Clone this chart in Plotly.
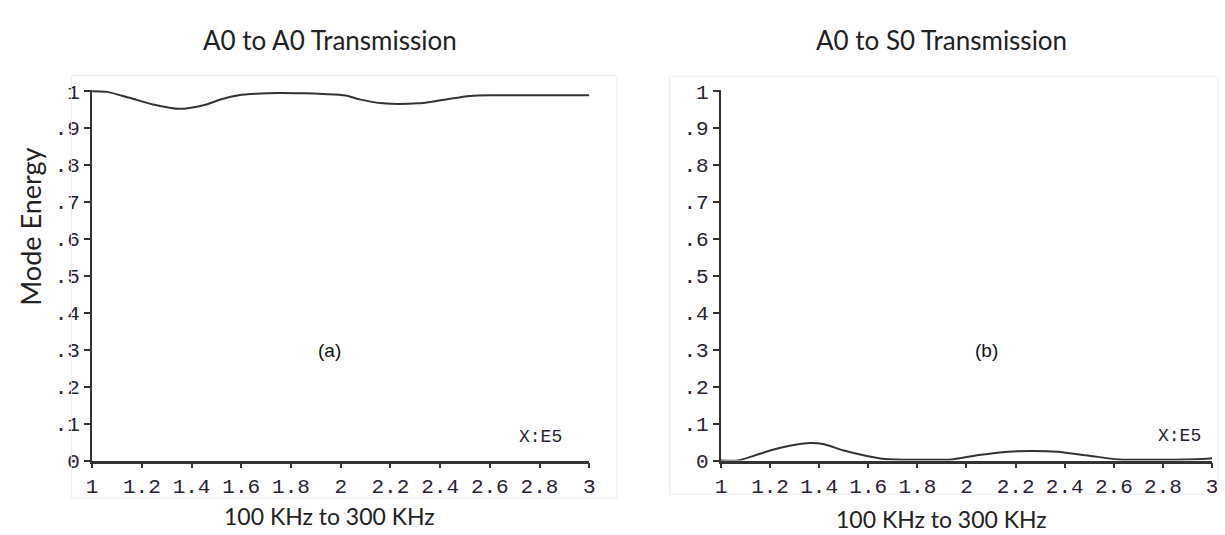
import plotly.graph_objects as go

# ---- data ----
freq_a = [1.0, 1.06, 1.15, 1.245, 1.35, 1.46, 1.52, 1.59, 1.66, 1.75, 1.85, 1.93, 2.02, 2.08, 2.17, 2.31, 2.41, 2.52, 2.62, 2.8, 3.0]
a0_a0 = [1.0, 0.998, 0.982, 0.964, 0.952, 0.964, 0.978, 0.989, 0.993, 0.995, 0.994, 0.992, 0.988, 0.977, 0.967, 0.967, 0.976, 0.987, 0.989, 0.989, 0.989]

freq_b = [1.0, 1.07, 1.13, 1.2, 1.28, 1.35, 1.42, 1.5, 1.59, 1.67, 1.8, 1.94, 2.05, 2.17, 2.27, 2.37, 2.5, 2.62, 2.8, 2.96, 3.0]
a0_s0 = [0.0, 0.0, 0.012, 0.027, 0.04, 0.047, 0.044, 0.027, 0.013, 0.004, 0.002, 0.003, 0.015, 0.024, 0.026, 0.024, 0.013, 0.003, 0.002, 0.004, 0.006]

x_ticks = [1, 1.2, 1.4, 1.6, 1.8, 2, 2.2, 2.4, 2.6, 2.8, 3]
x_labels = ["1", "1.2", "1.4", "1.6", "1.8", "2", "2.2", "2.4", "2.6", "2.8", "3"]
y_ticks = [0, 0.1, 0.2, 0.3, 0.4, 0.5, 0.6, 0.7, 0.8, 0.9, 1]
y_labels = ["0", ".1", ".2", ".3", ".4", ".5", ".6", ".7", ".8", ".9", "1"]

W, H = 1225, 535
def px(x):
    return x / W
def py(y):
    return 1 - y / H

LINE = "#333333"
TICKFONT = dict(family="Liberation Mono", size=21, color="#2a2234")

fig = go.Figure()
fig.add_trace(go.Scatter(x=freq_a, y=a0_a0, mode="lines", line=dict(color=LINE, width=2, shape="spline", smoothing=0.8),
                         xaxis="x", yaxis="y", showlegend=False))
fig.add_trace(go.Scatter(x=freq_b, y=a0_s0, mode="lines", line=dict(color=LINE, width=2, shape="spline", smoothing=0.8),
                         xaxis="x2", yaxis="y2", showlegend=False))

def xax(domain, anchor):
    return dict(domain=domain, anchor=anchor, range=[1, 3], tickvals=x_ticks, ticktext=x_labels,
                showgrid=False, zeroline=False, showline=True, linecolor=LINE, linewidth=2.5,
                ticks="outside", ticklen=5, tickwidth=2, tickcolor=LINE, tickfont=TICKFONT)

def yax(domain, anchor):
    return dict(domain=domain, anchor=anchor, range=[0, 1.004], tickvals=y_ticks, ticktext=y_labels,
                showgrid=False, zeroline=False, showline=True, linecolor=LINE, linewidth=2,
                ticks="outside", ticklen=6, tickwidth=2, tickcolor=LINE, tickfont=TICKFONT)

ydom = [py(471), py(85)]
fig.update_layout(
    width=W, height=H, autosize=False,
    margin=dict(l=0, r=0, t=0, b=0),
    paper_bgcolor="white", plot_bgcolor="white",
    xaxis=xax([px(87), px(589)], "y"),
    yaxis=yax(ydom, "x"),
    xaxis2=xax([px(722), px(1218)], "y2"),
    yaxis2=yax(ydom, "x2"),
)

shapes = [
    dict(type="rect", xref="paper", yref="paper", x0=px(66), x1=px(617), y0=py(510), y1=py(70),
         line=dict(color="#ececec", width=1)),
    dict(type="rect", xref="paper", yref="paper", x0=px(670), x1=px(1224), y0=py(506), y1=py(71),
         line=dict(color="#ececec", width=1)),
]
fig.update_layout(shapes=shapes)

TITLE = dict(family="Lato", size=26, color="#222222")
ann = [
    dict(text="A0 to A0 Transmission", x=px(327), y=py(33), font=TITLE),
    dict(text="A0 to S0 Transmission", x=px(945), y=py(33), font=TITLE),
    dict(text="100 KHz to 300 KHz", x=px(327), y=py(529), font=dict(family="Lato", size=23, color="#222222")),
    dict(text="100 KHz to 300 KHz", x=px(945), y=py(532), font=dict(family="Lato", size=23, color="#222222")),
    dict(text="Mode Energy", x=px(24), y=py(228), textangle=-90, font=dict(family="Lato", size=27, color="#222222")),
    dict(text="(a)", x=px(327), y=py(357), font=dict(family="Liberation Sans", size=19, color="#111111")),
    dict(text="(b)", x=px(990), y=py(357), font=dict(family="Liberation Sans", size=19, color="#111111")),
    dict(text="X:E5", x=px(540), y=py(447), font=dict(family="Liberation Mono", size=18, color="#2a2234")),
    dict(text="X:E5", x=px(1185), y=py(446), font=dict(family="Liberation Mono", size=18, color="#2a2234")),
]
for a in ann:
    a.update(xref="paper", yref="paper", showarrow=False, xanchor="center", yanchor="middle")
fig.update_layout(annotations=ann)

fig.write_html("out.html", config={"displayModeBar": False},
               post_script="document.body.style.margin='0';document.body.style.overflow='hidden';")
